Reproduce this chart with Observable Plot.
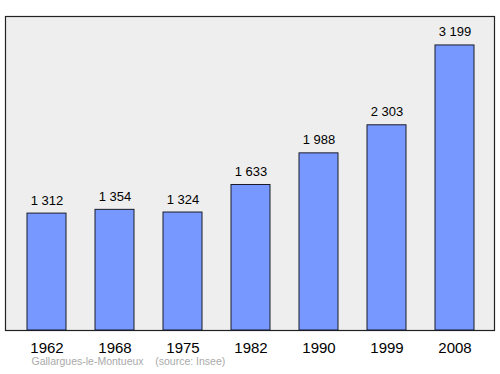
<!DOCTYPE html>
<html>
<head>
<meta charset="utf-8">
<script src="https://cdn.jsdelivr.net/npm/d3@7"></script>
<script src="https://cdn.jsdelivr.net/npm/@observablehq/plot@0.6"></script>
<style>
  html, body { margin: 0; padding: 0; background: #fff; }
  svg { display: block; }
</style>
</head>
<body>
<div id="chart"></div>
<script>
const years = ["1962", "1968", "1975", "1982", "1990", "1999", "2008"];
const population = [1312, 1354, 1324, 1633, 1988, 2303, 3199];
const labels = ["1 312", "1 354", "1 324", "1 633", "1 988", "2 303", "3 199"];
const caption = "Gallargues-le-Montueux    (source: Insee)";

const data = years.map((y, i) => ({year: y, value: population[i], label: labels[i]}));

const chart = Plot.plot({
  width: 500,
  height: 374,
  marginLeft: 5,
  marginRight: 6,
  marginTop: 16,
  marginBottom: 44,
  style: {fontFamily: "Liberation Sans, Arial, sans-serif", background: "#fff"},
  x: {domain: years, range: [5, 496], paddingInner: 0.43, paddingOuter: 0.3, label: null},
  y: {domain: [0, 3524], axis: null},
  marks: [
    Plot.frame({fill: "#eeeeee", stroke: "#222", strokeWidth: 1.2}),
    Plot.barY(data, {x: "year", y: "value", fill: "#7799ff", stroke: "#1a1a2a", strokeWidth: 1}),
    Plot.text(data, {x: "year", y: "value", text: "label", dy: -9, lineAnchor: "bottom", fontSize: 13, fill: "#000"}),
    Plot.axisX({tickSize: 0, tickPadding: 11.5, fontSize: 15, fill: "#000"}),
    Plot.text([caption], {frameAnchor: "bottom-left", dx: 26, dy: 34, text: d => d, fontSize: 10.5, fill: "#aaaaaa", textAnchor: "start", style: {whiteSpace: "pre"}})
  ]
});
document.getElementById("chart").appendChild(chart);
</script>
</body>
</html>
